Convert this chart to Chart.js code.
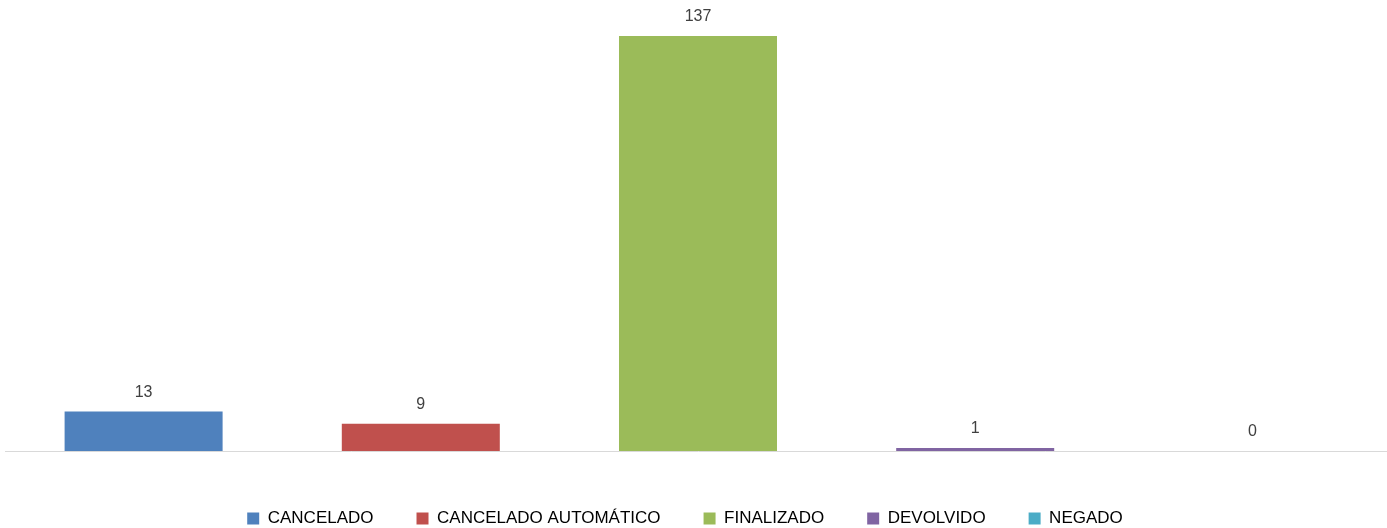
<!DOCTYPE html>
<html>
<head>
<meta charset="utf-8">
<script src="https://cdn.jsdelivr.net/npm/chart.js@4"></script>
<style>
  html, body { margin: 0; padding: 0; background: #fff; overflow: hidden; }
  #wrap { width: 1412px; height: 528px; position: relative; margin-left: -21px; }
</style>
</head>
<body>
<div id="wrap"><canvas id="statusChart"></canvas></div>
<script>
// Data
const categories = ['CANCELADO', 'CANCELADO AUTOMÁTICO', 'FINALIZADO', 'DEVOLVIDO', 'NEGADO'];
const totals = [13, 9, 137, 1, 0];
const barColors = ['#4f81bd', '#c0504d', '#9bbb59', '#8064a2', '#4bacc6'];

// value labels above each bar
const valueLabels = {
  id: 'valueLabels',
  afterDatasetsDraw(chart) {
    const c = chart.ctx;
    const meta = chart.getDatasetMeta(0);
    c.save();
    c.font = '16px "Liberation Sans", Arial, sans-serif';
    c.fillStyle = '#404040';
    c.textAlign = 'center';
    c.textBaseline = 'middle';
    meta.data.forEach((bar, i) => {
      c.fillText(String(totals[i]), bar.x, bar.y - 19);
    });
    c.restore();
  }
};

// legend sits a bit left of centre in the original
const legendShift = {
  id: 'legendShift',
  afterLayout(chart) {
    chart.legend.left -= 13;
    chart.legend.right -= 13;
  }
};

const ctx = document.getElementById('statusChart').getContext('2d');
const statusChart = new Chart(ctx, {
  type: 'bar',
  data: {
    labels: categories,
    datasets: [{
      label: 'Total',
      data: totals,
      backgroundColor: barColors,
      borderWidth: 0,
      barPercentage: 1,
      categoryPercentage: 0.57
    }]
  },
  options: {
    responsive: true,
    maintainAspectRatio: false,
    animation: false,
    layout: {
      padding: { top: 36, left: 26, right: 0, bottom: -9 }
    },
    scales: {
      x: {
        ticks: { display: false },
        grid: { display: false, drawTicks: false },
        border: { color: '#d9d9d9', width: 1 },
        afterFit: (scale) => { scale.height = 16; }
      },
      y: {
        display: false,
        min: 0,
        max: Math.max(...totals)
      }
    },
    plugins: {
      legend: {
        position: 'bottom',
        labels: {
          font: { size: 17, family: '"Liberation Sans", Arial, sans-serif' },
          color: '#595959',
          boxWidth: 12,
          boxHeight: 12,
          padding: 43,
          generateLabels: () => categories.map((name, i) => ({
            text: name,
            fillStyle: barColors[i],
            strokeStyle: barColors[i],
            lineWidth: 0,
            index: i
          }))
        }
      },
      tooltip: { enabled: false }
    }
  },
  plugins: [valueLabels, legendShift]
});
</script>
</body>
</html>
